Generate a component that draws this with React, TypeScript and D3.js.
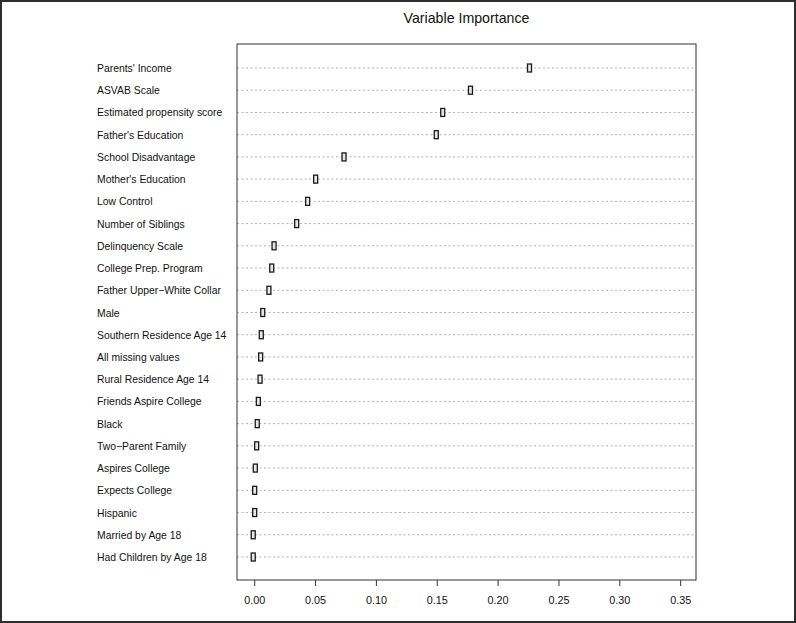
import React from "react";
import * as d3 from "d3";

const labels: string[] = [
  "Parents' Income",
  "ASVAB Scale",
  "Estimated propensity score",
  "Father's Education",
  "School Disadvantage",
  "Mother's Education",
  "Low Control",
  "Number of Siblings",
  "Delinquency Scale",
  "College Prep. Program",
  "Father Upper\u2212White Collar",
  "Male",
  "Southern Residence Age 14",
  "All missing values",
  "Rural Residence Age 14",
  "Friends Aspire College",
  "Black",
  "Two\u2212Parent Family",
  "Aspires College",
  "Expects College",
  "Hispanic",
  "Married by Age 18",
  "Had Children by Age 18",
];

const importance: number[] = [
  0.2258, 0.1773, 0.1545, 0.1492, 0.0734, 0.0501, 0.0435, 0.0345, 0.0159,
  0.014, 0.0117, 0.0066, 0.0054, 0.0049, 0.0044, 0.003, 0.0021, 0.0016,
  0.0005, 0.0, 0.0, -0.0012, -0.0012,
];

const xTicks: number[] = [0, 0.05, 0.1, 0.15, 0.2, 0.25, 0.3, 0.35];
const xDomain: [number, number] = [-0.01454, 0.3626];
const title = "Variable Importance";

const W = 796;
const H = 623;
const box = { left: 237, right: 696, top: 44, bottom: 580 };

export default function App() {
  const x = d3.scaleLinear().domain(xDomain).range([box.left, box.right]);
  const y = d3
    .scalePoint<string>()
    .domain(labels)
    .range([68, 557]);
  const font = "'Liberation Sans', Arial, Helvetica, sans-serif";
  return (
    <div style={{ position: "fixed", left: 0, top: 0 }}>
      <svg width={W} height={H} style={{ display: "block", background: "#fff" }}>
        <rect x={1} y={1} width={W - 2} height={H - 2} fill="#fff" stroke="#2e2e2e" strokeWidth={2} />
        <text
          x={(box.left + box.right) / 2}
          y={23}
          textAnchor="middle"
          fontFamily={font}
          fontSize={14.2}
          fill="#111"
          style={{ fontWeight: 500 }}
        >
          {title}
        </text>
        {labels.map((l) => (
          <g key={l}>
            <line
              x1={box.left}
              x2={box.right}
              y1={y(l)}
              y2={y(l)}
              stroke="#b0b0b0"
              strokeWidth={1}
              strokeDasharray="2,2.5"
            />
            <text x={97} y={(y(l) as number) + 4} fontFamily={font} fontSize={10.4} fill="#111">
              {l}
            </text>
          </g>
        ))}
        {labels.map((l, i) => (
          <rect
            key={"m" + l}
            x={x(importance[i]) - 2}
            y={(y(l) as number) - 4}
            width={4}
            height={8}
            fill="#e8e8e8"
            stroke="#1a1a1a"
            strokeWidth={1.3}
          />
        ))}
        <rect
          x={box.left}
          y={box.top}
          width={box.right - box.left}
          height={box.bottom - box.top}
          fill="none"
          stroke="#333"
          strokeWidth={1}
        />
        {xTicks.map((t) => (
          <g key={t}>
            <line x1={x(t)} x2={x(t)} y1={box.bottom} y2={box.bottom + 6} stroke="#333" strokeWidth={1} />
            <text
              x={x(t)}
              y={604}
              textAnchor="middle"
              fontFamily={font}
              fontSize={10.8}
              fill="#111"
            >
              {t.toFixed(2)}
            </text>
          </g>
        ))}
      </svg>
    </div>
  );
}
